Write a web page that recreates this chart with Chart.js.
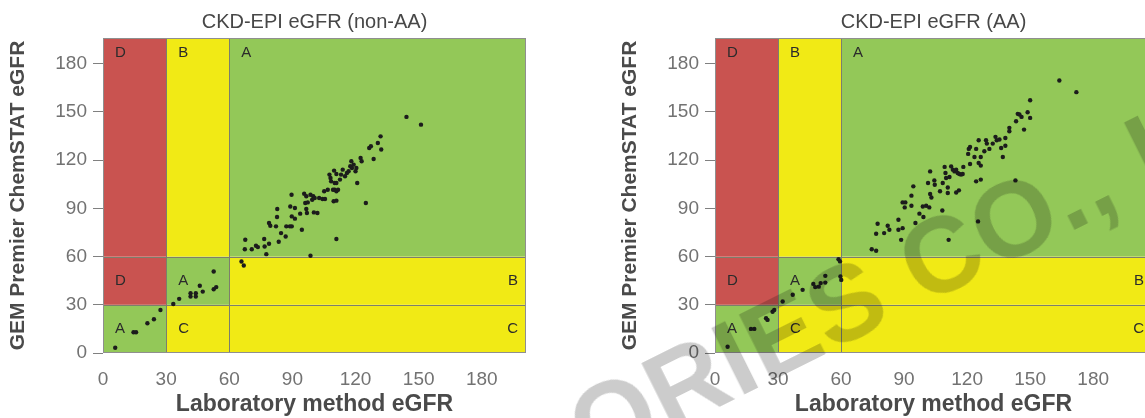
<!DOCTYPE html>
<html>
<head>
<meta charset="utf-8">
<title>GEM Premier ChemSTAT eGFR</title>
<script src="https://cdn.jsdelivr.net/npm/chart.js@4.4.1/dist/chart.umd.min.js"></script>
<style>
  html, body { margin: 0; padding: 0; background: #fff; overflow: hidden; width: 1145px; height: 418px; }
  .box { position: absolute; top: 0; height: 418px; }
  #leftBox { left: 0; width: 560px; }
  #rightBox { left: 612px; width: 574px; }
  #stamp {
    position: absolute; left: 593px; top: 471px;
    font: bold 107px "Liberation Sans", Arial, sans-serif; line-height: 1; letter-spacing: 1px;
    color: rgba(0, 0, 0, 0.2); white-space: nowrap; pointer-events: none;
    transform-origin: 0 0; transform: rotate(-26.5deg) translateY(-0.85em);
  }
</style>
</head>
<body>
<div class="box" id="leftBox"><canvas id="chartNonAA"></canvas></div>
<div class="box" id="rightBox"><canvas id="chartAA"></canvas></div>
<div id="stamp">ORIES CO., L</div>
<script>
// axis ticks and zone cut-offs
const tickValues = [0, 30, 60, 90, 120, 150, 180];
const zoneCuts = [30, 60];

// zone grid, bottom row first
const zoneFill = [
    ['green', 'yellow', 'yellow'],
    ['red', 'green', 'yellow'],
    ['red', 'yellow', 'green']
];
const zoneLetters = [
    ['A', 'C', 'C'],
    ['D', 'A', 'B'],
    ['D', 'B', 'A']
];
const letterRowY = [15, 45, 187];

// non-AA: laboratory method vs GEM Premier ChemSTAT
const nonAaLab = [5.8, 14.5, 15.7, 21.1, 24.2, 27.3, 33.4, 36.2, 41.6, 41.6, 44.1, 44.1, 46, 47.4, 52.6, 53.8, 52.6, 65.8, 66.9,
    67.6, 67.4, 70.7, 72.7, 73.6, 76.6, 76.8, 77.6, 78.9, 83.5, 82.8, 82.7, 78.9, 79.5, 82.2, 84.6, 86.8, 87.1, 88.8, 89.7,
    89.6, 89.0, 91.2, 89.7, 91.2, 94.5, 93.7, 95.6, 96.6, 96.1, 97.3, 96.6, 96.9, 98.6, 98.6, 99.9, 99.4, 100.6, 100.2, 101.9,
    102.7, 104.3, 105.1, 105.5, 106.8, 107.6, 108.1, 108.4, 109.3, 110.1, 109.6, 110.9, 110.9, 109.8, 110.9, 110.1, 110.9, 110.9,
    111.7, 112.6, 113.1, 113.9, 115, 115.9, 116.7, 117.5, 118, 118.3, 119.1, 120, 120.4, 120.8, 122.4, 122.9, 124.9, 126.5,
    127.3, 128.6, 130.6, 132.2, 131.9, 144.2, 151.1];
const nonAaGem = [3.3, 12.9, 12.9, 18.5, 21, 26.8, 30.5, 33.7, 37.2, 35.1, 37.2, 35.1, 41.8, 38.2, 39.7, 41, 50.7, 56.9, 54.4,
    70.5, 64.6, 64.6, 66.7, 65.9, 70.9, 66.3, 61.5, 68, 69.2, 89.6, 84.6, 80.9, 79.2, 78.8, 74.6, 72.5, 78.8, 78.8, 78.8,
    98.5, 91.2, 90.2, 85, 83.6, 76.7, 86.7, 99.1, 97.5, 93.3, 93.7, 89.6, 87.1, 60.5, 98.5, 97.5, 95.4, 96.4, 87.5, 87.1,
    96.4, 95.8, 100.6, 95.8, 101.6, 111, 108.9, 106.8, 101.6, 101.6, 94.4, 94.8, 70.9, 113.5, 111.4, 105.8, 105.8, 100.6,
    101.6, 107.9, 111, 114.1, 110, 112, 113.1, 116.2, 119.3, 115.1, 117.2, 113.1, 115.1, 105.8, 121.4, 119.3, 93.3, 127.6,
    128.6, 120.7, 130.7, 126.6, 134.8, 146.9, 142.1];

// AA: laboratory method vs GEM Premier ChemSTAT
const aaLab = [6, 17.1, 18.7, 24.3, 25, 27.4, 28.2, 32.2, 37, 41.7, 46.8, 47.7, 49.4, 50.3, 52.5, 52.5, 59.7, 60.1, 58.8, 59.5,
    74.6, 76.7, 77.4, 76.7, 80.5, 82.2, 83, 87.3, 87.3, 89.3, 88.6, 89.3, 90.6, 90.3, 93.5, 93.5, 94.4, 95.4, 97.3, 99.2,
    98.9, 100.5, 102, 102.4, 103, 101.4, 102.4, 104.4, 104.6, 107.1, 108.4, 108.2, 109.3, 109.7, 110, 110.8, 110.8, 111.2,
    111.6, 112.4, 113.2, 114, 114.8, 115.5, 116.3, 117.1, 117.9, 114.8, 116.1, 118.2, 120.8, 120.5, 121.4, 121.4, 123.5,
    124.3, 124.3, 125.2, 125.5, 126.5, 125.5, 126.5, 126.5, 128.2, 129, 129.4, 130.6, 132.2, 133.5, 134.1, 135.4, 136.2,
    137, 138.2, 138.2, 140.1, 140.1, 143.3, 144.1, 143, 150, 150, 148.8, 145.9, 147.1, 144.9, 163.9, 172];
const aaGem = [3.9, 15, 15, 21.6, 20.6, 25.7, 26.8, 32, 36.2, 39.3, 43, 41, 41.3, 43.5, 43.8, 48, 47.6, 45.5, 58.4, 57,
    64.6, 63.6, 80.4, 74.2, 74.6, 79.2, 76.7, 82.9, 76.7, 77.7, 70.4, 93.7, 93.7, 90.6, 97.9, 91.6, 103.7, 80.9, 86.7, 84.6,
    91.2, 91.6, 90.6, 98.9, 96.8, 105.8, 113, 107.4, 104.7, 100.6, 105.8, 88.7, 115.8, 112, 108.9, 103, 99.6, 70.4,
    109.5, 116.1, 114.1, 113, 114.1, 112, 111.4, 111, 111.4, 99.9, 101.2, 115.8, 127, 123.9, 128.2, 117.6, 122,
    127, 106.8, 81.9, 118.3, 116.6, 132.4, 122, 107.9, 125.5, 132.4, 130.3, 127, 130.3, 134.5, 132.4, 132.8, 127.6,
    122, 133.8, 129, 140.1, 138, 144.2, 148.8, 107.4, 157.3, 146.3, 149.8, 146.9, 139, 148.4, 169.6, 162.3];

const zoneColors = { red: '#c95350', yellow: '#f1ea15', green: '#93c858' };
const fontFamily = '"Liberation Sans", Arial, Helvetica, sans-serif';
Chart.defaults.font.family = fontFamily;

// coloured zones, cut lines and zone letters behind the points
const zonePlugin = {
    id: 'zones',
    beforeDatasetsDraw(chart) {
        const ctx = chart.ctx;
        const a = chart.chartArea;
        const x = chart.scales.x;
        const y = chart.scales.y;
        const xs = [x.min].concat(zoneCuts, [x.max]);
        const ys = [y.min].concat(zoneCuts, [y.max]);
        ctx.save();
        for (let r = 0; r < 3; r++) {
            for (let c = 0; c < 3; c++) {
                const x0 = x.getPixelForValue(xs[c]);
                const x1 = x.getPixelForValue(xs[c + 1]);
                const y0 = y.getPixelForValue(ys[r + 1]);
                const y1 = y.getPixelForValue(ys[r]);
                ctx.fillStyle = zoneColors[zoneFill[r][c]];
                ctx.fillRect(x0, y0, x1 - x0, y1 - y0);
            }
        }
        ctx.strokeStyle = '#7c7f6c';
        ctx.lineWidth = 1;
        ctx.beginPath();
        zoneCuts.forEach(function (v) {
            const px = Math.round(x.getPixelForValue(v)) + 0.5;
            ctx.moveTo(px, a.top);
            ctx.lineTo(px, a.bottom);
            const py = Math.round(y.getPixelForValue(v)) + 0.5;
            ctx.moveTo(a.left, py);
            ctx.lineTo(a.right, py);
        });
        ctx.stroke();
        ctx.strokeStyle = '#8f8f8f';
        ctx.strokeRect(a.left + 0.5, a.top + 0.5, a.width - 1, a.height - 1);

        ctx.font = '15px ' + fontFamily;
        ctx.fillStyle = '#2b2b2b';
        ctx.textBaseline = 'middle';
        for (let r = 0; r < 3; r++) {
            for (let c = 0; c < 3; c++) {
                const py = y.getPixelForValue(letterRowY[r]);
                if (c === 2 && r < 2) {
                    ctx.textAlign = 'right';
                    ctx.fillText(zoneLetters[r][c], a.right - 8, py);
                } else {
                    ctx.textAlign = 'left';
                    ctx.fillText(zoneLetters[r][c], x.getPixelForValue(xs[c]) + 12, py);
                }
            }
        }
        ctx.restore();
    }
};

function makeChart(id, title, lab, gem, xMax) {
    const points = lab.map(function (v, i) { return { x: v, y: gem[i] }; });
    const setTicks = function (s) { s.ticks = tickValues.map(function (v) { return { value: v }; }); };
    return new Chart(document.getElementById(id), {
        type: 'scatter',
        data: {
            datasets: [{
                data: points,
                pointRadius: 2.2,
                pointBackgroundColor: '#1c1c1c',
                pointBorderWidth: 0
            }]
        },
        options: {
            responsive: true,
            maintainAspectRatio: false,
            animation: false,
            layout: { padding: { left: 0, right: 34, top: 0, bottom: 0 } },
            plugins: {
                legend: { display: false },
                tooltip: { enabled: false },
                title: {
                    display: true,
                    fullSize: false,
                    text: title,
                    color: '#474747',
                    font: { size: 20, weight: 'normal' },
                    padding: { top: 10, bottom: 4 }
                }
            },
            scales: {
                x: {
                    type: 'linear',
                    min: 0,
                    max: xMax,
                    afterBuildTicks: setTicks,
                    afterFit: function (s) { s.height = 65; },
                    grid: { display: false },
                    border: { display: false },
                    ticks: { padding: 7, color: '#727272', maxRotation: 0, autoSkip: false, font: { size: 19 } },
                    title: {
                        display: true,
                        text: 'Laboratory method eGFR',
                        color: '#4a4a4a',
                        font: { size: 23, weight: 'bold' },
                        padding: { top: 0, bottom: 0 }
                    }
                },
                y: {
                    type: 'linear',
                    min: 0,
                    max: 196,
                    afterBuildTicks: setTicks,
                    afterFit: function (s) { s.width = 103; },
                    grid: { drawOnChartArea: false, drawTicks: true, tickLength: 10, color: '#808080' },
                    border: { display: false },
                    ticks: { padding: 6, color: '#727272', font: { size: 19 } },
                    title: {
                        display: true,
                        text: 'GEM Premier ChemSTAT eGFR',
                        color: '#4a4a4a',
                        font: { size: 21, weight: 'bold' },
                        padding: { top: 6, bottom: 0 }
                    }
                }
            }
        },
        plugins: [zonePlugin]
    });
}

makeChart('chartNonAA', 'CKD-EPI eGFR (non-AA)', nonAaLab, nonAaGem, 201);
makeChart('chartAA', 'CKD-EPI eGFR (AA)', aaLab, aaGem, 208);
</script>
</body>
</html>
